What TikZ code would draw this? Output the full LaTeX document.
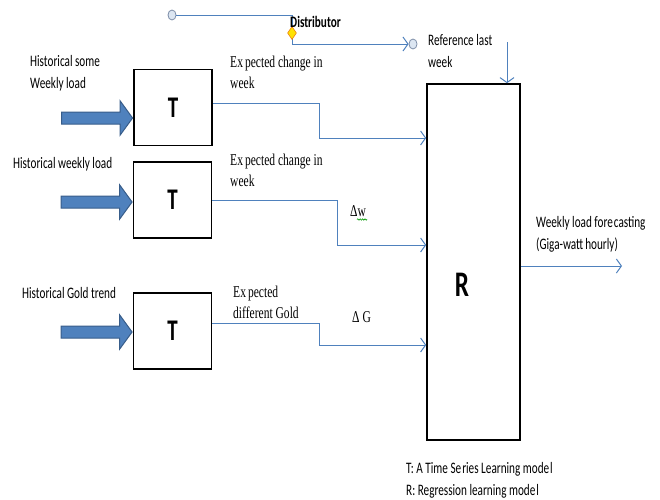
\documentclass[tikz,border=0pt]{standalone}
\usepackage{fontspec}
\setmainfont{Liberation Serif}
\newfontfamily\narrowsans[FakeStretch=0.7]{Carlito}
\newfontfamily\narrowserif[FakeStretch=0.7]{Liberation Serif}
\usetikzlibrary{arrows.meta,shapes.arrows,shapes.geometric,decorations.pathmorphing}
\definecolor{lineblue}{HTML}{4F81BD}
\definecolor{arrowfill}{HTML}{4F81BD}
\definecolor{arrowedge}{HTML}{385D8A}
\definecolor{handlefill}{HTML}{DCE6F2}
\definecolor{handleedge}{HTML}{7F8FA9}
\tikzset{
  modelbox/.style={draw=black, line width=1.6pt, fill=white, inner sep=0pt},
  tbox/.style={modelbox, minimum width=78pt, minimum height=76pt,
    font=\narrowsans\bfseries\fontsize{30}{30}\selectfont},
  lbl/.style={anchor=base west, inner sep=0pt, align=left,
    font=\narrowsans\fontsize{16}{22}\selectfont},
  slbl/.style={anchor=base west, inner sep=0pt, align=left,
    font=\narrowserif\fontsize{16.5}{20.5}\selectfont},
  conn/.style={draw=lineblue, line width=1pt,
    -{Straight Barb[length=5pt, width=14pt, line width=1pt]}},
  blockarrow/.style={single arrow, draw=arrowedge, fill=arrowfill, line width=1pt,
    inner sep=5.5pt, minimum height=71pt, minimum width=33pt,
    single arrow head extend=11pt, single arrow tip angle=108, anchor=tip},
  handle/.style={ellipse, draw=handleedge, fill=handlefill, line width=0.8pt,
    minimum width=8pt, minimum height=10pt, inner sep=0pt},
}
\begin{document}
\begin{tikzpicture}[x=1pt, y=-1pt]
\useasboundingbox (0,0) rectangle (660,499);

% time series blocks and the regression block
\node[tbox] (t1) at (173,107.5) {T};
\node[tbox] (t2) at (172.5,200) {T};
\node[tbox] (t3) at (172.5,331) {T};
\node[modelbox, minimum width=93pt, minimum height=356pt] (r) at (473.5,262) {};
\node[inner sep=0pt, font=\narrowsans\bfseries\fontsize{36}{36}\selectfont] (rl) at (462,285) {R};

% input block arrows
\node[blockarrow] (a1) at (t1.west |- 0,118) {};
\node[blockarrow] (a2) at (t2.west |- 0,202) {};
\node[blockarrow] (a3) at (t3.west |- 0,332) {};

% input labels (multi-line nodes sit on the baseline of their last line)
\node[lbl] (h1) at (30,88) {Historical some\\Weekly load};
\node[lbl] (h2) at (13,168) {Historical weekly load};
\node[lbl] (h3) at (22,298) {Historical Gold trend};

% output labels of the T blocks
\node[slbl] (e1) at (230,88) {Ex\kern2pt pected change in\\week};
\node[slbl] (e2) at (230,186) {Ex\kern2pt pected change in\\week};
\node[slbl] (e3) at (233,318) {Ex\kern2pt pected\\different Gold};
\node[slbl] (dw) at (350,216) {Δw};
\node[slbl] (dg) at (352,322) {Δ G};
\draw[green!60!black, line width=0.6pt,
  decorate, decoration={snake, amplitude=0.7pt, segment length=2.4pt}]
  (357,219.5) -- (367,219.5);

% connectors from the T blocks to R
\coordinate (o1) at (t1.east |- 0,103);
\coordinate (o3) at (t3.east |- 0,323);
\draw[conn] (o1) -- (319,103) |- (r.west |- 0,138);
\draw[conn] (t2.east) -- (337,200) |- (r.west |- 0,245);
\draw[conn] (o3) -- (319,323) |- (r.west |- 0,345);

% forecast output
\coordinate (out) at (622,266);
\draw[conn] (r.east |- out) -- (out);
\node[lbl] (fc) at (536,249) {Weekly load fore\kern1pt casting\\(Giga-watt\kern2pt hourly)};

% reference of the last week
\node[lbl] (rf) at (428,67) {Reference last\\week};
\coordinate (rtop) at (507,42);
\draw[conn] (rtop) -- (r.north -| rtop);

% distributor connector
\node[handle] (c1) at (172,15) {};
\node[handle] (c2) at (413,44) {};
\draw[conn] (c1) -- (292,15) -- (292,44) -- (c2);
\node[diamond, draw=orange!70!brown, fill=yellow!85!orange, line width=0.6pt,
  inner sep=0pt, minimum width=9pt, minimum height=13pt, aspect=0.7] (dh) at (292,33) {};
\node[lbl, font=\narrowsans\bfseries\fontsize{16}{18}\selectfont] (ds) at (290,27) {Distributor};

% legend
\node[lbl] (lg) at (406,495) {T: A Time Se\kern1pt ries Learning mode\kern1pt l\\R: Regression learning mode\kern1pt l};
\end{tikzpicture}
\end{document}
